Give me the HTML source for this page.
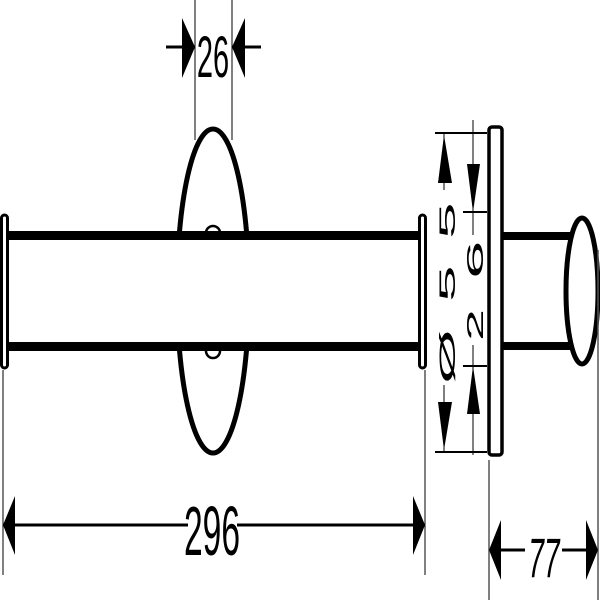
<!DOCTYPE html>
<html><head><style>html,body{margin:0;padding:0;background:#fff;width:600px;height:600px;overflow:hidden}</style></head>
<body>
<svg width="600" height="600" viewBox="0 0 600 600" xmlns="http://www.w3.org/2000/svg" font-family="Liberation Sans, sans-serif">
<rect width="600" height="600" fill="#fff"/>
<ellipse cx="213" cy="291" rx="36" ry="162" fill="none" stroke="#000" stroke-width="5"/>
<rect x="170" y="240" width="90" height="102" fill="#fff"/>
<path d="M206,233 a7,7 0 0 1 14,0" fill="#fff" stroke="#000" stroke-width="2.5"/>
<path d="M206,351 a7,7 0 0 0 14,0" fill="#fff" stroke="#000" stroke-width="2.5"/>
<rect x="6" y="231" width="414" height="9" fill="#000"/>
<rect x="6" y="342" width="414" height="9" fill="#000"/>
<rect x="1.5" y="215" width="6" height="153" rx="3" fill="#fff" stroke="#000" stroke-width="3"/>
<rect x="419.5" y="215" width="6" height="153" rx="3" fill="#fff" stroke="#000" stroke-width="3"/>
<line x1="195" y1="0" x2="195" y2="140" stroke="#000" stroke-width="1"/>
<line x1="232" y1="0" x2="232" y2="140" stroke="#000" stroke-width="1"/>
<line x1="166" y1="47" x2="195" y2="47" stroke="#000" stroke-width="3"/>
<line x1="232" y1="47" x2="261" y2="47" stroke="#000" stroke-width="3"/>
<polygon points="195,47 182,18 182,78" fill="#000"/>
<polygon points="232,47 245,18 245,78" fill="#000"/>
<text x="213" y="77" font-size="58" text-anchor="middle" transform="translate(213,0) scale(0.5,1) translate(-213,0)">26</text>
<line x1="3" y1="370" x2="3" y2="575" stroke="#000" stroke-width="1"/>
<line x1="425" y1="370" x2="425" y2="575" stroke="#000" stroke-width="1"/>
<line x1="5" y1="525" x2="188" y2="525" stroke="#000" stroke-width="3"/>
<line x1="237" y1="525" x2="423" y2="525" stroke="#000" stroke-width="3"/>
<polygon points="3,525 15,496 15,555" fill="#000"/>
<polygon points="425,525 413,496 413,555" fill="#000"/>
<text x="212" y="555" font-size="70" text-anchor="middle" transform="translate(212,0) scale(0.48,1) translate(-212,0)">296</text>
<rect x="489" y="127" width="13" height="328" rx="3" fill="#fff" stroke="#000" stroke-width="3.5"/>
<rect x="502" y="232" width="68" height="8" fill="#000"/>
<rect x="502" y="342" width="68" height="8" fill="#000"/>
<ellipse cx="582" cy="291" rx="16" ry="73" fill="#fff" stroke="#000" stroke-width="5"/>
<line x1="598" y1="250" x2="598" y2="600" stroke="#555" stroke-width="1.5"/>
<line x1="435" y1="133" x2="487" y2="133" stroke="#000" stroke-width="2"/>
<line x1="435" y1="452" x2="487" y2="452" stroke="#000" stroke-width="2"/>
<line x1="444" y1="133" x2="444" y2="452" stroke="#000" stroke-width="1"/>
<polygon points="444,135 438,183 452,183" fill="#000"/>
<polygon points="444,450 438,402 452,402" fill="#000"/>
<rect x="436" y="190" width="25" height="195" fill="#fff"/>
<g font-size="22">
<text transform="translate(455,384) rotate(-90) scale(3.2,1)">Ø</text>
<text transform="translate(455,302) rotate(-90) scale(3,1)">5</text>
<text transform="translate(455,239) rotate(-90) scale(3,1)">5</text>
</g>
<line x1="473" y1="120" x2="473" y2="455" stroke="#000" stroke-width="1"/>
<line x1="463" y1="212" x2="487" y2="212" stroke="#000" stroke-width="2"/>
<line x1="463" y1="366" x2="487" y2="366" stroke="#000" stroke-width="2"/>
<polygon points="473,212 467,164 480,164" fill="#000"/>
<polygon points="473,366 467,414 480,414" fill="#000"/>
<rect x="462" y="235" width="25" height="110" fill="#fff"/>
<g font-size="23">
<text transform="translate(483,341) rotate(-90) scale(2.5,1)">2</text>
<text transform="translate(483,279) rotate(-90) scale(3,1)">6</text>
</g>
<line x1="489" y1="460" x2="489" y2="600" stroke="#555" stroke-width="1.5"/>
<line x1="492" y1="550" x2="525" y2="550" stroke="#000" stroke-width="3"/>
<line x1="562" y1="550" x2="596" y2="550" stroke="#000" stroke-width="3"/>
<polygon points="489,550 501,520 501,580" fill="#000"/>
<polygon points="598,550 586,520 586,580" fill="#000"/>
<text x="544" y="577" font-size="56" text-anchor="middle" font-style="italic" transform="translate(544,0) scale(0.5,1) translate(-544,0)">77</text>
</svg>
</body></html>
